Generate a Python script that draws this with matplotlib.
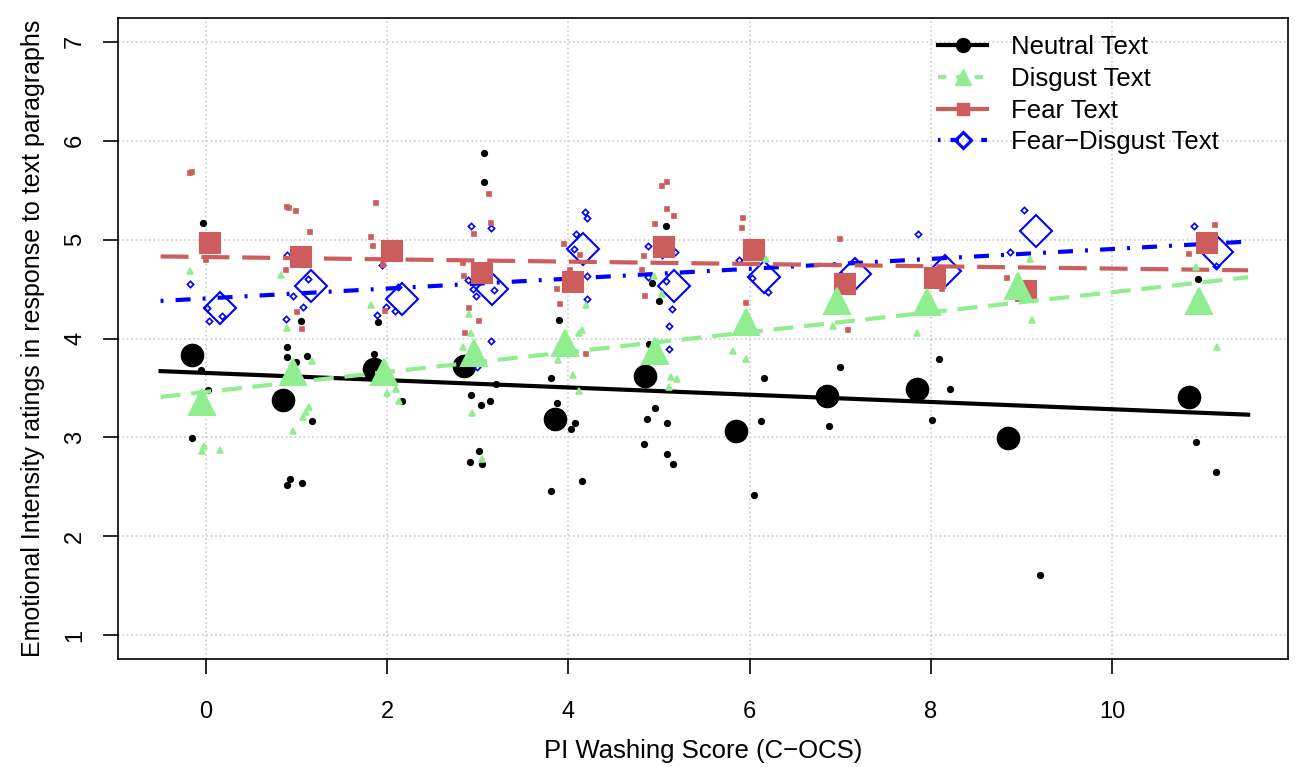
import numpy as np
import matplotlib.pyplot as plt
from matplotlib.lines import Line2D

plt.rcParams['font.family'] = ['Liberation Sans', 'DejaVu Sans']

# C-OCS washing scores that have data
scores = [0, 1, 2, 3, 4, 5, 6, 7, 8, 9, 11]

# mean ratings per score
neutral_mean = [3.83, 3.38, 3.69, 3.72, 3.19, 3.62, 3.06, 3.42, 3.49, 2.99, 3.41]
disgust_mean = [3.36, 3.66, 3.66, 3.85, 3.95, 3.87, 4.17, 4.38, 4.37, 4.53, 4.38]
fear_mean = [4.97, 4.82, 4.88, 4.66, 4.57, 4.93, 4.89, 4.55, 4.61, 4.48, 4.97]
fd_mean = [4.31, 4.53, 4.40, 4.50, 4.90, 4.53, 4.62, 4.65, 4.68, 5.09, 4.87]

# regression lines (intercept, slope)
neutral_fit = [3.652, -0.0367]
disgust_fit = [3.46, 0.1008]
fear_fit = [4.824, -0.0117]
fd_fit = [4.405, 0.050]
fit_range = [-0.5, 11.5]

# individual ratings (jittered score, rating)
neutral_x = [-0.03, -0.05, 0.02, -0.15, 0.90, 0.89, 0.99, 1.05, 1.12, 1.17, 0.93, 0.89, 1.06,
             1.90, 1.86, 1.94, 2.16, 3.07, 3.07, 3.20, 2.92, 3.14, 3.04, 3.01, 2.91, 3.05,
             3.90, 3.81, 3.87, 4.07, 4.03, 3.81, 4.15, 5.08, 4.92, 5.00, 4.89, 4.96, 4.87,
             5.09, 4.83, 5.09, 5.15, 6.16, 6.12, 6.05, 7.00, 6.88, 8.09, 8.21, 8.01, 9.20,
             10.95, 10.93, 11.14]
neutral_y = [5.17, 3.68, 3.48, 2.99, 3.91, 3.81, 3.76, 4.18, 3.82, 3.17, 2.58, 2.52, 2.54,
             4.17, 3.84, 3.56, 3.37, 5.88, 5.58, 3.54, 3.43, 3.37, 3.33, 2.86, 2.75, 2.73,
             4.19, 3.60, 3.35, 3.15, 3.09, 2.46, 2.56, 5.14, 4.56, 4.38, 3.94, 3.30, 3.19,
             3.15, 2.93, 2.83, 2.73, 3.60, 3.17, 2.42, 3.71, 3.12, 3.79, 3.49, 3.18, 1.61,
             4.60, 2.95, 2.65]

disgust_x = [-0.18, -0.02, -0.04, 0.16, 0.83, 0.90, 1.17, 1.14, 1.10, 1.07, 0.96,
             1.82, 2.00, 2.10, 2.13, 2.90, 2.93, 2.84, 2.94, 3.05,
             4.15, 4.12, 3.89, 4.05, 4.12, 4.19, 4.94, 5.03, 5.13, 5.20, 5.11,
             6.18, 5.82, 5.96, 6.92, 7.85, 9.09, 9.12, 10.93, 11.16]
disgust_y = [4.68, 2.91, 2.86, 2.87, 4.64, 4.11, 3.77, 3.31, 3.26, 3.21, 3.06,
             4.34, 3.45, 3.49, 3.37, 4.25, 4.06, 3.91, 3.25, 2.78,
             4.09, 4.06, 3.78, 3.63, 3.47, 4.34, 4.63, 4.45, 3.61, 3.59, 3.51,
             4.80, 3.87, 3.79, 4.13, 4.06, 4.80, 4.19, 4.72, 3.91]

fear_x = [-0.18, -0.15, 0.00, 0.89, 0.92, 0.99, 1.15, 0.88, 1.00, 1.06,
          1.88, 1.82, 1.84, 1.95, 1.98, 3.12, 3.15, 2.96, 2.84, 2.85, 2.90, 3.01, 2.86,
          3.95, 4.13, 4.02, 3.87, 3.91, 4.19, 5.03, 5.09, 5.09, 5.16, 4.95, 4.83, 4.81, 4.84,
          5.93, 5.92, 5.96, 7.00, 7.09, 8.12, 8.84, 10.85, 11.13]
fear_y = [5.67, 5.68, 4.79, 5.33, 5.32, 5.29, 5.08, 4.69, 4.27, 4.10,
          5.37, 5.03, 4.94, 4.74, 4.28, 5.46, 5.17, 5.06, 4.76, 4.63, 4.31, 4.18, 4.06,
          4.96, 4.84, 4.69, 4.50, 4.35, 3.84, 5.54, 5.58, 5.31, 5.24, 5.16, 4.83, 4.69, 4.43,
          5.22, 5.12, 4.36, 5.01, 4.09, 4.50, 4.61, 4.85, 5.15]

fd_x = [-0.17, 0.01, 0.03, 0.18, 0.89, 1.13, 0.96, 1.07, 0.88,
        1.94, 2.12, 1.99, 1.89, 2.09, 2.93, 3.15, 2.89, 2.95, 2.98, 3.18, 3.15, 2.99,
        4.18, 4.20, 4.08, 4.06, 4.20, 4.20, 4.88, 5.03, 5.18, 4.88, 5.08, 5.14, 5.11, 5.11,
        5.88, 6.03, 6.20, 7.01, 7.86, 9.03, 8.87, 10.90, 11.15]
fd_y = [4.55, 4.31, 4.18, 4.23, 4.84, 4.60, 4.43, 4.32, 4.20,
        4.74, 4.52, 4.32, 4.24, 4.28, 5.14, 5.12, 4.59, 4.50, 4.43, 4.49, 3.97, 3.71,
        5.28, 5.22, 5.06, 4.91, 4.63, 4.40, 4.94, 4.84, 4.87, 4.62, 4.58, 4.30, 4.13, 3.89,
        4.79, 4.61, 4.47, 4.64, 5.06, 5.30, 4.87, 5.14, 4.73]

green = '#90EE90'
red = '#CD5C5C'
blue = '#0000FF'

fig = plt.figure(figsize=(12.98, 7.67), dpi=100)
ax = fig.add_axes([0.0909, 0.1408, 0.9014, 0.8357])

sc = np.array(scores, dtype=float)
xf = np.array(fit_range)

# each series: points, means, fit line
series = [
    ('Neutral Text', neutral_x, neutral_y, neutral_mean, neutral_fit, 'black', 'o', -0.15,
     dict(linestyle='-'), 4, 15.5, 'full'),
    ('Fear\u2212Disgust Text', fd_x, fd_y, fd_mean, fd_fit, blue, 'D', 0.16,
     dict(dashes=(0.7, 2.9, 3.6, 2.9)), 3.2, 16, 'none'),
    ('Fear Text', fear_x, fear_y, fear_mean, fear_fit, red, 's', 0.05,
     dict(dashes=(6.7, 3.1)), 3.3, 14.5, 'full'),
    ('Disgust Text', disgust_x, disgust_y, disgust_mean, disgust_fit, green, '^', -0.04,
     dict(dashes=(4.8, 2.6)), 4, 19, 'full'),
]

for i, (name, px, py, mean, fit, col, mk, off, ls, ms_small, ms_big, fill) in enumerate(series):
    z = 3 + i
    ax.plot(px, py, linestyle='none', marker=mk, markersize=ms_small, color=col,
            fillstyle=fill, markeredgewidth=1.2, zorder=z)
    ax.plot(sc + off, mean, linestyle='none', marker=mk, markersize=ms_big, color=col,
            fillstyle=fill, markeredgewidth=1.5, zorder=z)
    ax.plot(xf, fit[0] + fit[1] * xf, color=col, linewidth=3, zorder=z, **ls)

ax.set_xlim(-0.97, 11.94)
ax.set_ylim(0.76, 7.24)
ax.set_xticks([0, 2, 4, 6, 8, 10])
ax.set_yticks([1, 2, 3, 4, 5, 6, 7])
ax.grid(True, color='#cccccc', linestyle=':', linewidth=1.2)
ax.set_axisbelow(True)
for s in ax.spines.values():
    s.set_linewidth(1.2)
ax.tick_params(axis='both', direction='out', length=11, width=1.2, labelsize=17)
ax.tick_params(axis='x', pad=19)
ax.tick_params(axis='y', pad=12)
plt.setp(ax.get_yticklabels(), rotation=90, va='center')

ax.set_xlabel('PI Washing Score (C\u2212OCS)', fontsize=18.5, labelpad=12)
ax.set_ylabel('Emotional Intensity ratings in response to text paragraphs', fontsize=18, labelpad=14)

handles = [
    Line2D([], [], color='black', marker='o', markersize=10, linewidth=3),
    Line2D([], [], color=green, marker='^', markersize=11, linewidth=3, dashes=(2.0, 2.4)),
    Line2D([], [], color=red, marker='s', markersize=9, linewidth=3),
    Line2D([], [], color=blue, marker='D', markersize=8.5, fillstyle='none', markeredgewidth=2.2,
           linewidth=3, dashes=(0.6, 2.4, 2.0, 2.4)),
]
labels = ['Neutral Text', 'Disgust Text', 'Fear Text', 'Fear\u2212Disgust Text']
ax.legend(handles, labels, loc='upper left', bbox_to_anchor=(0.69, 0.993), frameon=False,
          fontsize=18.5, handlelength=1.9, handletextpad=0.93, labelspacing=0.3, borderpad=0)

fig.savefig('out.png', dpi=100)
